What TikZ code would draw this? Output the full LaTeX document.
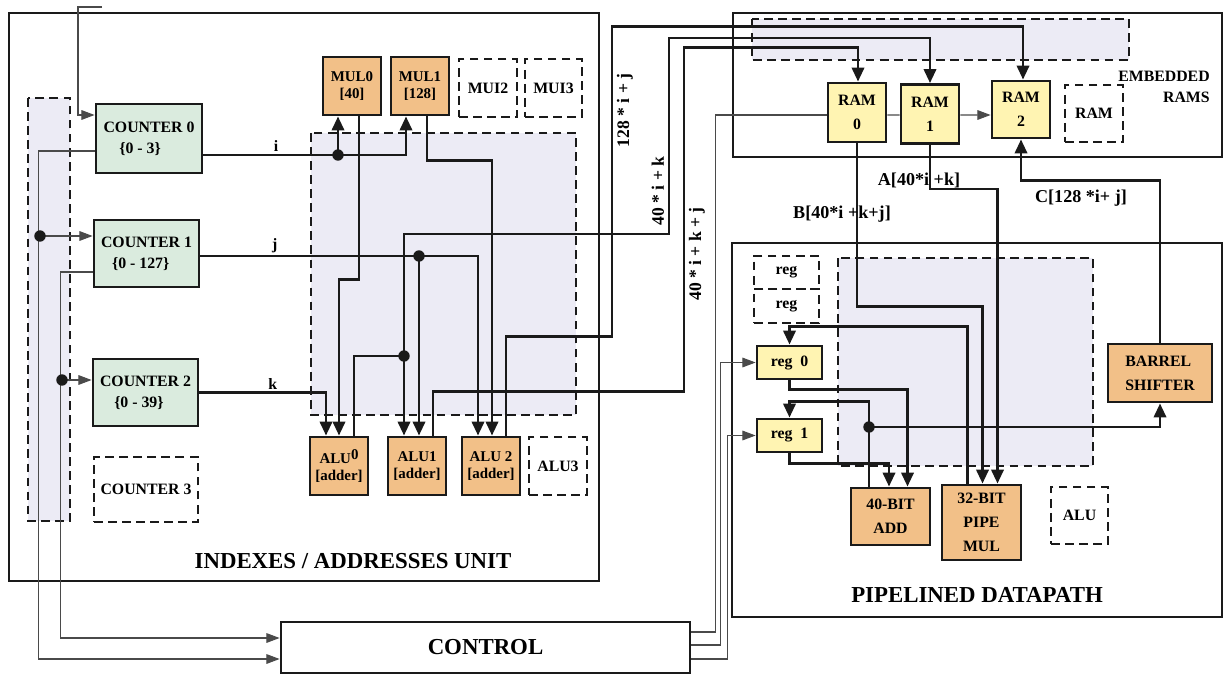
\documentclass[tikz,border=0pt]{standalone}
\usepackage{fontspec}
\setmainfont{Liberation Serif}
\usetikzlibrary{arrows.meta,calc,positioning}
\definecolor{cLine}{HTML}{1A1A1A}
\definecolor{cThin}{HTML}{4A4A4A}
\definecolor{cShade}{HTML}{ECEBF5}
\definecolor{cCnt}{HTML}{DAEBDE}
\definecolor{cOrg}{HTML}{F2C088}
\definecolor{cYel}{HTML}{FFF4B2}
\tikzset{
  nm/.style    = {font=\fontsize{9}{12}\selectfont\bfseries},
  sm/.style    = {font=\fontsize{8.5}{9.5}\selectfont\bfseries},
  ttl/.style   = {font=\fontsize{13}{15}\selectfont\bfseries},
  alab/.style  = {font=\fontsize{10.3}{12}\selectfont\bfseries},
  blk/.style   = {rectangle, draw=cLine, line width=1.6pt, inner sep=1pt, align=center},
  cntb/.style  = {blk, nm, fill=cCnt, align=left, minimum width=21mm, minimum height=13.4mm},
  opb/.style   = {blk, sm, fill=cOrg, minimum width=11.6mm, minimum height=11.6mm},
  ramb/.style  = {blk, fill=cYel, minimum width=11.6mm, minimum height=11.8mm,
                  font=\fontsize{9}{13.5}\selectfont\bfseries},
  dpb/.style   = {blk, fill=cOrg, font=\fontsize{9}{13.5}\selectfont\bfseries},
  regb/.style  = {blk, nm, fill=cYel, minimum width=13mm, minimum height=6.6mm},
  spare/.style = {rectangle, draw=cLine, line width=1pt, dash pattern=on 5pt off 3pt, align=center},
  shade/.style = {draw=cLine, line width=1pt, dash pattern=on 5pt off 3pt, fill=cShade},
  unit/.style  = {draw=cLine, line width=1.5pt},
  wire/.style  = {draw=cLine, line width=1.6pt},
  wa/.style    = {wire, -{Triangle[length=8pt,width=7pt]}},
  ctl/.style   = {draw=cThin, line width=0.6pt},
  cta/.style   = {ctl, -{Triangle[length=7.5pt,width=5.5pt]}},
  jn/.style    = {circle, fill=cLine, inner sep=0pt, minimum size=6.5pt},
  rlab/.style  = {font=\fontsize{10}{12}\selectfont\bfseries, rotate=90, inner sep=2pt},
}
\begin{document}
\begin{tikzpicture}[x=0.2mm, y=-0.2mm]
  \useasboundingbox (0,0) rectangle (1224,675);

  % ---- shaded areas ----
  \draw[shade] (28,98) rectangle (70,521);
  \draw[shade] (311,133) rectangle (576,415);
  \draw[shade] (752,19) rectangle (1129,60);
  \draw[shade] (838,258) rectangle (1093,466);

  % ---- units ----
  \draw[unit] (9,13) rectangle (599,581);
  \draw[unit] (733,13) rectangle (1222,157);
  \draw[unit] (732,243) rectangle (1222,617);
  \node[ttl] (tIdx) at (353,561) {INDEXES / ADDRESSES UNIT};
  \node[ttl] (tDp) at (977,595) {PIPELINED DATAPATH};
  \node[nm, align=right] (tEmb) at (1164,87) {EMBEDDED\\RAMS};

  % ---- counters ----
  \node[cntb, minimum width=21.2mm, minimum height=13.8mm] (c0) at (149,138.5)
    {COUNTER 0\\\hspace*{1em}\{0 - 3\}};
  \node[cntb] (c1) at (146.5,253.5) {COUNTER 1\\\hspace*{0.7em}\{0 - 127\}};
  \node[cntb] (c2) at (145.5,392.5) {COUNTER 2\\\hspace*{0.9em}\{0 - 39\}};
  \node[spare, nm, minimum width=20.8mm, minimum height=13mm] (c3) at (146,489.5) {COUNTER 3};

  % ---- multipliers and adders ----
  \node[opb] (mul0) at (352,86) {MUL0\\{}[40]};
  \node[opb] (mul1) at (420,86) {MUL1\\{}[128]};
  \node[spare, nm, minimum width=11.6mm, minimum height=11.6mm] (mul2) at (488,88) {MUI2};
  \node[spare, nm, minimum width=11.4mm, minimum height=11.6mm] (mul3) at (553.5,88) {MUI3};
  \node[opb] (alu0) at (339,466) {ALU\raisebox{2pt}{0}\\{}[adder]};
  \node[opb] (alu1) at (417,466) {ALU1\\{}[adder]};
  \node[opb] (alu2) at (491,466) {ALU 2\\{}[adder]};
  \node[spare, nm, minimum width=11.6mm, minimum height=11.6mm] (alu3) at (558,466) {ALU3};

  % ---- embedded rams ----
  \node[ramb] (ram0) at (857,112.5) {RAM\\0};
  \node[ramb] (ram1) at (930,114) {RAM\\1};
  \node[ramb, minimum height=11.4mm] (ram2) at (1021,109.5) {RAM\\2};
  \node[spare, nm, minimum width=11.6mm, minimum height=11.4mm] (ram3) at (1094,113.5) {RAM};

  % ---- datapath ----
  \node[spare, nm, minimum width=13mm, minimum height=6.6mm] (rs0) at (786.5,272.5) {reg};
  \node[spare, nm, minimum width=13mm, minimum height=6.8mm] (rs1) at (786.5,306) {reg};
  \node[regb] (reg0) at (789.5,362.5) {reg~~0};
  \node[regb] (reg1) at (789.5,435.5) {reg~~1};
  \node[dpb, minimum width=15.8mm, minimum height=11.4mm] (add40) at (890.5,516.5) {40-BIT\\ADD};
  \node[dpb, minimum width=15.8mm, minimum height=15mm] (mul32) at (981.5,522.5) {32-BIT\\PIPE\\MUL};
  \node[spare, nm, minimum width=11.4mm, minimum height=11.4mm] (alux) at (1079.5,515.5) {ALU};
  \node[dpb, align=left, minimum width=20.8mm, minimum height=11.6mm] (barrel) at (1160,373)
    {BARREL\\SHIFTER};

  % ---- control ----
  \node[blk, ttl, minimum width=81.8mm, minimum height=10.2mm] (ctrl) at (485.5,647.5) {CONTROL};

  % ---- index wires ----
  \coordinate (ji) at (338,155);
  \coordinate (jj) at (419,256);
  \coordinate (j0) at (404,356);
  \draw[wire] (c0.east |- ji) -- node[nm, above, inner sep=1pt, pos=.54] {i} (ji);
  \draw[wa] (ji) -| ($(mul1.south)+(-14,0)$);
  \draw[wa] (ji) -- (ji |- mul0.south);
  \draw[wa] ($(mul0.south)+(7,0)$) -- ++(0,163) -| (alu0.north);
  \draw[wire] (c1.east |- jj) -- node[nm, above, inner sep=1pt, pos=.34] {j} (jj);
  \draw[wa] (jj) -| ($(alu2.north)+(-13,0)$);
  \draw[wa] (jj) -- (jj |- alu1.north);
  \draw[wa] ($(mul1.south)+(7,0)$) -- ++(0,44) -| ($(alu2.north)+(1,0)$);
  \draw[wa] (c2.east) -| node[nm, above, inner sep=1pt, pos=.29] {k} ($(alu0.north)+(-13,0)$);
  \draw[wire] ($(alu0.north)+(15,0)$) |- (j0);
  \draw[wa] (j0) -- (j0 |- alu1.north);

  % ---- address wires ----
  \draw[wa] (j0) -- ++(0,-122) -- ++(265,0)
    -- node[rlab, anchor=south, pos=.22] {40 * i + k} ++(0,-196) -| (ram1.north);
  \draw[wa] ($(alu1.north)+(16,0)$) -- ++(0,-44) -- ++(251,0)
    -- node[rlab, anchor=north, pos=.40] {40 * i + k + j} ++(0,-344) -| ($(ram0.north)+(1,0)$);
  \draw[wa] ($(alu2.north)+(15,0)$) -- ++(0,-99) -- ++(106,0)
    -- node[rlab, anchor=north, pos=.73] {128 * i + j} ++(0,-310) -| ($(ram2.north)+(2,0)$);

  % ---- ram to datapath ----
  \draw[wa] (ram0.south) -- ++(0,163) -| ($(mul32.north)+(1,0)$);
  \draw[wa] (ram1.south) -- ++(0,44) -| ($(mul32.north)+(16,0)$);
  \draw[wa] (barrel.north) -- ++(0,-162) -| (ram2.south);
  \node[alab] (lB) at (842,214) {B[40*i +k+j]};
  \node[alab] (lA) at (919,180) {A[40*i +k]};
  \node[alab] (lC) at (1081,198) {C[128 *i+ j]};

  % ---- datapath wires ----
  \coordinate (ja) at (869,427);
  \draw[wa] ($(mul32.north)+(-14,0)$) -- ++(0,-157) -| (reg0.north);
  \draw[wa] (reg0.south) -- ++(0,9) -| ($(add40.north)+(17,0)$);
  \draw[wa] ($(add40.north)+(-21.5,0)$) -- ++(0,-85) -| (reg1.north);
  \draw[wa] (ja) -| (barrel.south);
  \draw[wa] (reg1.south) -- ++(0,10) -| ($(add40.north)+(-1.5,0)$);

  % ---- control lines ----
  \coordinate (k1) at (40,236);
  \coordinate (k2) at (62,380);
  \coordinate (kin) at (102,7);
  \draw[cta] (kin) -- ++(-24,0) |- ($(c0.west)+(0,-23.5)$);
  \draw[cta] ($(c0.west)+(0,12.5)$) -- ++(-56,0) |- ($(ctrl.west)+(0,11.5)$);
  \draw[cta] (k1) -- (k1 -| c1.west);
  \draw[cta] ($(c1.west)+(0,18.5)$) -- ++(-32,0) |- ($(ctrl.west)+(0,-9.5)$);
  \draw[cta] (k2) -- (k2 -| c2.west);
  \draw[ctl] ($(ctrl.east)+(0,-15.5)$) -- ++(24,0) |- ($(ram0.west)+(0,2.5)$);
  \draw[ctl] ($(ram0.east)+(0,2.5)$) -- ($(ram1.west)+(0,1)$);
  \draw[cta] ($(ram1.east)+(0,1)$) -- ($(ram2.west)+(0,5.5)$);
  \draw[cta] ($(ctrl.east)+(0,-2.5)$) -- ++(29,0) |- (reg0.west);
  \draw[cta] ($(ctrl.east)+(0,11.5)$) -- ++(36,0) |- (reg1.west);

  % ---- junctions ----
  \node[jn] (dI) at (ji) {};
  \node[jn] (dJ) at (jj) {};
  \node[jn] (dA0) at (j0) {};
  \node[jn] (dAdd) at (ja) {};
  \node[jn] (dK1) at (k1) {};
  \node[jn] (dK2) at (k2) {};
\end{tikzpicture}
\end{document}
